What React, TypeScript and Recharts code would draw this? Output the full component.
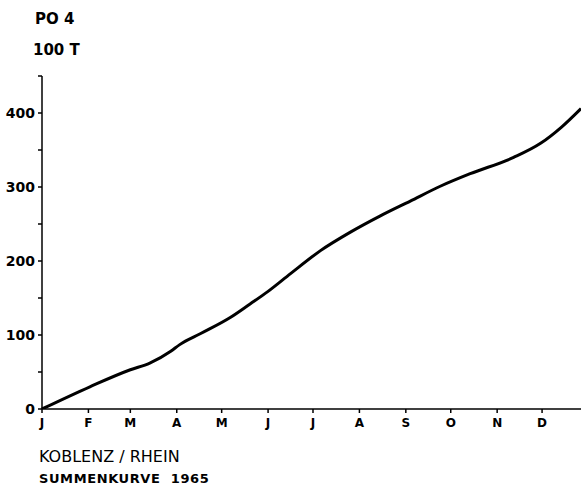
import { LineChart, Line, XAxis, YAxis } from 'recharts';

// day of year (1965) and cumulative PO4 load in 100 t
const days = [0, 32, 59, 72, 86, 92, 106, 126, 139, 151, 166, 186, 206, 226, 246, 266, 286, 315, 333, 347, 360];
const load = [0, 30, 53, 62, 78, 87, 102, 124, 142, 159, 183, 214, 239, 261, 281, 301, 318, 340, 359, 381, 406];

const monthStarts = [0, 31, 59, 90, 120, 151, 181, 212, 243, 273, 304, 334];
const monthLabels = ['J', 'F', 'M', 'A', 'M', 'J', 'J', 'A', 'S', 'O', 'N', 'D'];
const yTicks = [0, 50, 100, 150, 200, 250, 300, 350, 400, 450];

const data = days.map((d, i) => ({ day: d, value: load[i] }));

const font = '"DejaVu Sans", sans-serif';

export default function App() {
  return (
    <div style={{ position: 'absolute', left: 0, top: 0, width: 581, height: 487, background: '#fff', fontFamily: font }}>
      <div style={{ position: 'absolute', left: 35, top: 10, fontSize: 15, fontWeight: 'bold' }}>PO 4</div>
      <div style={{ position: 'absolute', left: 33, top: 41, fontSize: 15, fontWeight: 'bold' }}>100 T</div>
      <LineChart width={581} height={487} data={data} margin={{ top: 76, right: 0, bottom: 48, left: 0 }}>
        <XAxis
          dataKey="day"
          type="number"
          domain={[0, 360]}
          ticks={monthStarts}
          tickFormatter={(v: number) => monthLabels[monthStarts.indexOf(v)] ?? ''}
          height={30}
          stroke="#000"
          strokeWidth={1.5}
          tickSize={4}
          tickMargin={5}
          tick={{ fill: '#000', fontSize: 12, fontWeight: 'bold', fontFamily: font }}
        />
        <YAxis
          type="number"
          domain={[0, 450]}
          ticks={yTicks}
          tickFormatter={(v: number) => (v % 100 === 0 && v <= 400 ? String(v) : '')}
          width={42}
          stroke="#000"
          strokeWidth={1.5}
          tickSize={4}
          tickMargin={3}
          allowDataOverflow
          tick={{ fill: '#000', fontSize: 14, fontWeight: 'bold', fontFamily: font }}
        />
        <Line type="monotone" dataKey="value" stroke="#000" strokeWidth={3} dot={false} isAnimationActive={false} />
      </LineChart>
      <div style={{ position: 'absolute', left: 39, top: 447, fontSize: 16 }}>KOBLENZ / RHEIN</div>
      <div style={{ position: 'absolute', left: 39, top: 471, fontSize: 13, fontWeight: 'bold', letterSpacing: 0.6 }}>SUMMENKURVE&nbsp; 1965</div>
    </div>
  );
}
